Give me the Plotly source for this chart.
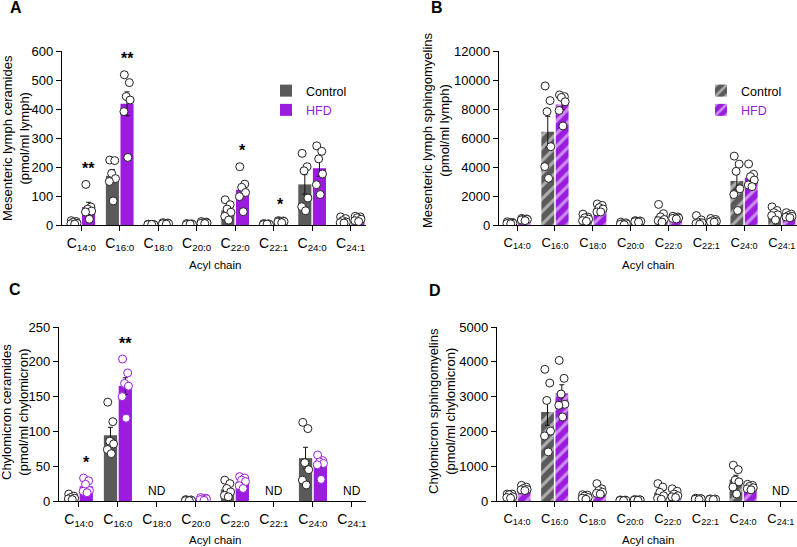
import numpy as np
import plotly.graph_objects as go

W, H = 797, 547
GRAY = "#5a5a5a"
PURPLE = "#9b1cde"
FONT = "Arial, Liberation Sans, Helvetica, sans-serif"

categories = ["14:0", "16:0", "18:0", "20:0", "22:0", "22:1", "24:0", "24:1"]
tick_labels = ["C<sub>%s</sub>" % c for c in categories]

# Panel A: mesenteric lymph ceramides (pmol/ml lymph)
A_control = [[15, 12, 10, 6, 4, 3], [224, 222, 178, 160, 150, 83], [3, 2, 2, 1, 1, 2],
             [5, 4, 3, 2, 1, 3], [87, 70, 55, 44, 30, 17], [5, 4, 3, 2, 1, 3],
             [247, 201, 187, 93, 63, 49], [28, 22, 15, 10, 8, 7]]
A_hfd = [[140, 62, 55, 48, 45, 20], [518, 491, 443, 431, 391, 233], [8, 7, 6, 5, 4, 3],
         [12, 10, 8, 7, 6, 5], [201, 141, 130, 112, 98, 46], [15, 14, 13, 12, 10, 8],
         [273, 254, 228, 176, 139, 105], [30, 28, 25, 20, 15, 12]]
A_stars = {0: "**", 1: "**", 4: "*", 5: "*"}

# Panel B: mesenteric lymph sphingomyelins
B_control = [[220, 180, 150, 120, 100, 80], [9590, 8580, 7820, 5400, 4025, 3220],
             [750, 550, 500, 400, 300, 250], [200, 150, 100, 80, 50, 20],
             [1420, 780, 560, 380, 300, 200], [650, 350, 200, 150, 100, 50],
             [4750, 4200, 3700, 2500, 2100, 1000], [1250, 1000, 850, 700, 650, 350]]
B_hfd = [[450, 420, 400, 380, 350, 300], [8970, 8855, 8800, 8500, 7900, 6830],
         [1450, 1350, 1200, 1100, 900, 900], [300, 280, 260, 250, 220, 200],
         [600, 550, 500, 480, 450, 420], [450, 380, 300, 250, 220, 200],
         [4210, 3500, 3335, 3100, 2760, 2645], [850, 750, 650, 600, 550, 500]]

# Panel C: chylomicron ceramides (None = ND)
C_control = [[10, 7, 5, 4, 3, 2], [142, 114, 86, 82, 74, 68], None,
             [2, 1.5, 1, 1, 0.5, 0.5], [30, 25, 18, 13, 8, 6], None,
             [113, 104, 55, 45, 30, 23], None]
C_hfd = [[33, 29, 24, 15, 14, 12], [204, 184, 169, 165, 150, 119], None,
         [5, 4, 3, 3, 2, 1], [35, 33, 30, 28, 22, 18], None,
         [66, 58, 56, 54, 52, 31], None]
C_stars = {0: "*", 1: "**"}

# Panel D: chylomicron sphingomyelins
D_control = [[200, 200, 180, 120, 100, 80], [3784, 3390, 2890, 2010, 1870, 1410],
             [180, 170, 140, 100, 80, 50], [30, 25, 20, 20, 15, 10],
             [500, 400, 250, 150, 80, 50], [80, 70, 60, 60, 50, 40],
             [1030, 900, 600, 550, 400, 200], None]
D_hfd = [[450, 400, 360, 330, 320, 300], [4040, 3525, 3075, 2780, 2750, 2415],
         [500, 350, 300, 250, 220, 200], [40, 35, 30, 30, 25, 20],
         [350, 280, 200, 150, 120, 100], [60, 55, 50, 50, 45, 40],
         [480, 450, 420, 380, 350, 320], None]

JIT = [-0.07, 0.06, -0.02, 0.08, -0.08, 0.02]
OFF, BW = 0.19, 0.34


def px_x(p):
    return p / W


def px_y(p):
    return 1 - p / H


fig = go.Figure()

panels = [
    dict(key="", ctrl=A_control, hfd=A_hfd, hatch=False, xd=[62, 366], yd=[225, 51],
         xr=[-0.5, 7.4], yr=[0, 600], dt=100, tf=14, legend="legend", stars=A_stars,
         hfd_pt_line="#222"),
    dict(key="2", ctrl=B_control, hfd=B_hfd, hatch=True, xd=[499, 797], yd=[225, 51],
         xr=[-0.48, 7.4], yr=[0, 12000], dt=2000, tf=13, legend="legend2", stars={},
         hfd_pt_line="#222"),
    dict(key="3", ctrl=C_control, hfd=C_hfd, hatch=False, xd=[59, 366], yd=[501, 327],
         xr=[-0.51, 7.36], yr=[0, 250], dt=50, tf=14, legend=None, stars=C_stars,
         hfd_pt_line=PURPLE),
    dict(key="4", ctrl=D_control, hfd=D_hfd, hatch=True, xd=[497, 797], yd=[501, 327],
         xr=[-0.53, 7.43], yr=[0, 5000], dt=1000, tf=13, legend=None, stars={},
         hfd_pt_line="#222"),
]

for p in panels:
    xa, ya = "x" + p["key"], "y" + p["key"]
    groups = [("Control", p["ctrl"], GRAY, -OFF, "#222"),
              ("<span style='color:%s'>HFD</span>" % PURPLE, p["hfd"], PURPLE, OFF, p["hfd_pt_line"])]
    for name, data, col, off, ptline in groups:
        idx = [i for i, d in enumerate(data) if d is not None]
        means = [float(np.mean(data[i])) for i in idx]
        sems = [float(np.std(data[i], ddof=1) / np.sqrt(len(data[i]))) for i in idx]
        marker = dict(color=col, line=dict(width=0))
        if p["hatch"]:
            marker["pattern"] = dict(shape="/", fgcolor="white", bgcolor=col, size=9, solidity=0.35)
        fig.add_trace(go.Bar(
            x=[i + off for i in idx], y=means, width=BW, name=name, marker=marker,
            error_y=dict(type="data", array=sems, color="#111", thickness=1, width=2.5),
            xaxis=xa, yaxis=ya, showlegend=p["legend"] is not None,
            legend=p["legend"] if p["legend"] else "legend"))
    for name, data, col, off, ptline in groups:
        xs, ys = [], []
        for i, d in enumerate(data):
            if d is None:
                continue
            for k, v in enumerate(d):
                xs.append(i + off + JIT[k % len(JIT)])
                ys.append(v)
        fig.add_trace(go.Scatter(
            x=xs, y=ys, mode="markers", showlegend=False, xaxis=xa, yaxis=ya,
            marker=dict(symbol="circle", size=8, color="white", line=dict(color=ptline, width=1)),
            hoverinfo="skip"))
    # stars
    for i, s in p["stars"].items():
        fig.add_annotation(x=i + OFF, y=max(p["hfd"][i]), xref=xa, yref=ya, text="<b>%s</b>" % s,
                           showarrow=False, yshift=16, font=dict(size=16, color="black", family=FONT))
    # ND labels
    for i in range(len(categories)):
        if p["ctrl"][i] is None and p["hfd"][i] is None:
            fig.add_annotation(x=i, y=0, xref=xa, yref=ya, text="ND", showarrow=False,
                               yshift=10, yanchor="middle",
                               font=dict(size=12, color="black", family=FONT))
    axkey_x = "xaxis" + p["key"]
    axkey_y = "yaxis" + p["key"]
    fig.update_layout(**{
        axkey_x: dict(domain=[px_x(p["xd"][0]), px_x(p["xd"][1])], range=p["xr"], anchor=ya,
                      tickvals=list(range(len(categories))), ticktext=tick_labels,
                      showline=True, linecolor="black", linewidth=1.3, ticks="outside",
                      ticklen=5, tickwidth=1.2, tickcolor="black", showgrid=False, zeroline=False,
                      tickfont=dict(size=p["tf"], color="black", family=FONT), fixedrange=True,
                      automargin=False),
        axkey_y: dict(domain=[px_y(p["yd"][0]), px_y(p["yd"][1])], range=p["yr"], anchor=xa,
                      dtick=p["dt"], tickformat="d", showline=True, linecolor="black", linewidth=1.3,
                      ticks="outside", ticklen=5, tickwidth=1.2, tickcolor="black",
                      showgrid=False, zeroline=False, automargin=False,
                      tickfont=dict(size=13, color="black", family=FONT), fixedrange=True),
    })

# y axis titles
ytitles = [
    ("Mesenteric lymph ceramides<br>(pmol/ml lymph)", 16, 138),
    ("Mesenteric lymph sphingomyelins<br>(pmol/ml lymph)", 436, 130),
    ("Chylomicron ceramides<br>(pmol/ml chylomicron)", 15, 412),
    ("Chylomicron sphingomyelins<br>(pmol/ml chylomicron)", 442, 411),
]
for t, x, y in ytitles:
    fig.add_annotation(x=px_x(x), y=px_y(y), xref="paper", yref="paper", text=t, textangle=-90,
                       showarrow=False, xanchor="center", yanchor="middle",
                       font=dict(size=13, color="black", family=FONT))

# x axis titles
for x, y in [(215, 265), (648, 265), (215, 540), (648, 540)]:
    fig.add_annotation(x=px_x(x), y=px_y(y), xref="paper", yref="paper", text="Acyl chain",
                       showarrow=False, xanchor="center", yanchor="middle",
                       font=dict(size=11.5, color="black", family=FONT))

# panel letters
for t, x, y in [("A", 16, 8), ("B", 437, 7), ("C", 15, 289), ("D", 435, 290)]:
    fig.add_annotation(x=px_x(x), y=px_y(y), xref="paper", yref="paper", text="<b>%s</b>" % t,
                       showarrow=False, xanchor="center", yanchor="middle",
                       font=dict(size=16, color="black", family=FONT))

fig.update_layout(
    width=W, height=H, margin=dict(l=0, r=0, t=0, b=0, autoexpand=False),
    paper_bgcolor="white", plot_bgcolor="white", barmode="overlay",
    font=dict(family=FONT, color="black"),
    legend=dict(x=px_x(266), y=px_y(76), xanchor="left", yanchor="top", bgcolor="rgba(0,0,0,0)",
                font=dict(size=12.5, family=FONT), tracegroupgap=0, itemwidth=30),
    legend2=dict(x=px_x(701), y=px_y(76), xanchor="left", yanchor="top", bgcolor="rgba(0,0,0,0)",
                 font=dict(size=12.5, family=FONT), tracegroupgap=0, itemwidth=30),
)

fig.write_html("out.html", config={"displayModeBar": False},
               post_script="document.body.style.margin='0';document.body.style.overflow='hidden';")
